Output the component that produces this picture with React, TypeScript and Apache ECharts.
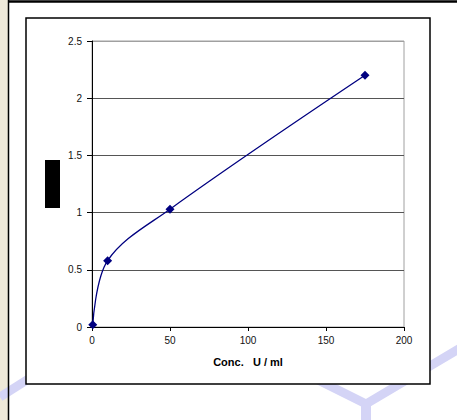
import React, { useEffect, useRef } from "react";
import * as echarts from "echarts";

const concentrations = [0.5, 10, 50, 175];
const absorbances = [0.02, 0.58, 1.03, 2.2];
const xTicks = { min: 0, max: 200, interval: 50 };
const yTicks = { min: 0, max: 2.5, interval: 0.5 };
const xAxisTitle = "Conc.   U / ml";

export default function App() {
  const ref = useRef<HTMLDivElement>(null);
  useEffect(() => {
    if (!ref.current) return;
    const chart = echarts.init(ref.current, null, { renderer: "svg" });
    const font = "'Liberation Sans', Arial, sans-serif";
    const wm = "#d4d4f6";
    chart.setOption({
      animation: false,
      backgroundColor: "#ffffff",
      graphic: [
        { type: "rect", z: -20, shape: { x: 0, y: 0, width: 8, height: 420 }, style: { fill: "#efe9d9" } },
        { type: "polyline", z: -19, shape: { points: [[0, 397], [30, 378]] }, style: { stroke: wm, lineWidth: 9, fill: null } },
        { type: "polyline", z: -18, shape: { points: [[312, 377], [366, 404], [462, 347]] }, style: { stroke: wm, lineWidth: 9, fill: null } },
        { type: "line", z: -18, shape: { x1: 366, y1: 404, x2: 366, y2: 425 }, style: { stroke: wm, lineWidth: 10 } },
        { type: "line", z: -17, shape: { x1: 8.5, y1: 0, x2: 8.5, y2: 420 }, style: { stroke: "#000", lineWidth: 1.5 } },
        { type: "line", z: -17, shape: { x1: 8, y1: 1.5, x2: 457, y2: 1.5 }, style: { stroke: "#000", lineWidth: 2.5 } },
        { type: "rect", z: -10, shape: { x: 26, y: 18, width: 404, height: 366 }, style: { fill: "#ffffff", stroke: "#000", lineWidth: 1.5 } },
        { type: "rect", z: 10, shape: { x: 45, y: 160, width: 15, height: 48 }, style: { fill: "#000" } },
      ],
      grid: {
        left: 92, top: 41, right: 53, bottom: 93,
        show: true, borderColor: "#a0a0a0", borderWidth: 1, backgroundColor: "transparent",
      },
      xAxis: {
        type: "value",
        ...xTicks,
        name: xAxisTitle,
        nameLocation: "middle",
        nameGap: 29,
        nameTextStyle: { fontFamily: font, fontSize: 11, fontWeight: "bold", color: "#000", verticalAlign: "top" },
        axisLine: { show: true, onZero: false, lineStyle: { color: "#000", width: 1 } },
        axisTick: { show: true, inside: false, length: 4, lineStyle: { color: "#000" } },
        axisLabel: { fontFamily: font, fontSize: 10, color: "#111", margin: 8 },
        splitLine: { show: false },
      },
      yAxis: {
        type: "value",
        ...yTicks,
        axisLine: { show: true, onZero: false, lineStyle: { color: "#000", width: 1 } },
        axisTick: { show: true, inside: false, length: 5, lineStyle: { color: "#000" } },
        axisLabel: { fontFamily: font, fontSize: 10, color: "#111", margin: 10 },
        splitLine: { show: true, lineStyle: { color: ["#555", "#555", "#555", "#555", "#555", "#a0a0a0"], width: 1 } },
      },
      series: [
        {
          type: "line",
          data: concentrations.map((c, i) => [c, absorbances[i]]),
          smooth: 0.35,
          symbol: "diamond",
          symbolSize: 9,
          showSymbol: true,
          itemStyle: { color: "#000080" },
          lineStyle: { color: "#000080", width: 1.3 },
        },
      ],
    });
    return () => chart.dispose();
  }, []);
  return <div ref={ref} style={{ position: "fixed", left: 0, top: 0, width: 457, height: 420 }} />;
}
